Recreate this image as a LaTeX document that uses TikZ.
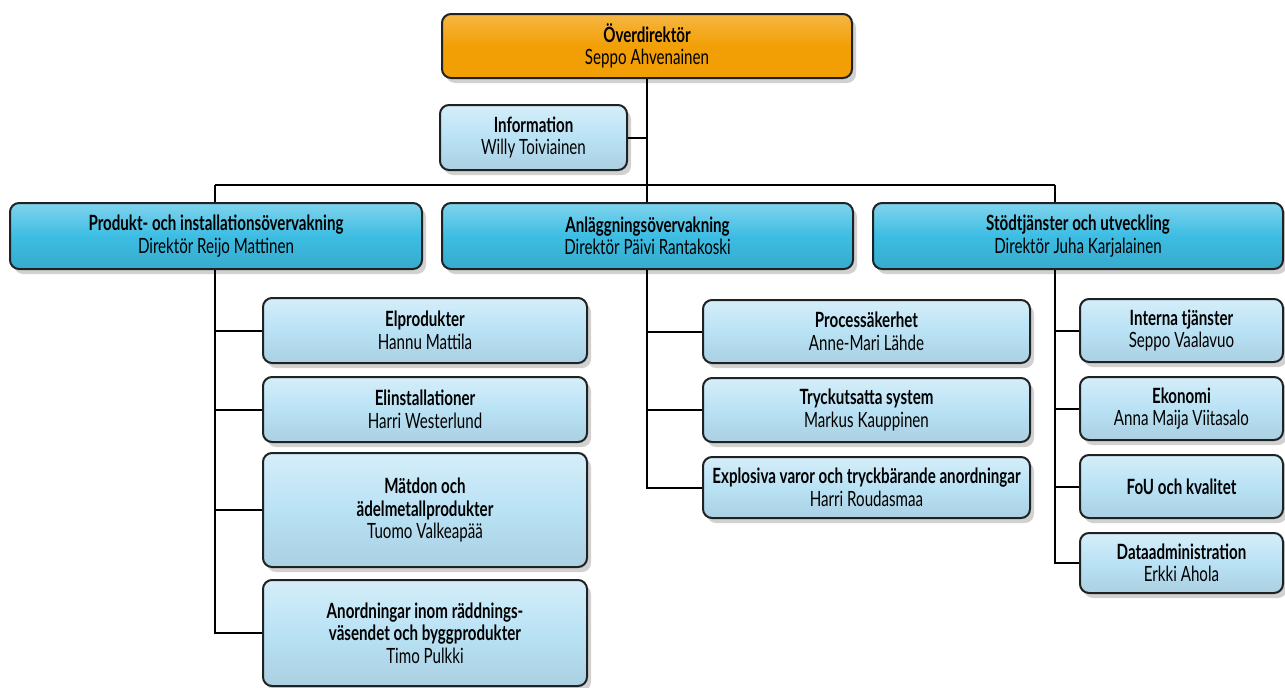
\documentclass[tikz,border=0pt]{standalone}
\usepackage{fontspec}
\setmainfont{Lato}[FakeStretch=0.72]
\usetikzlibrary{shadows,backgrounds,calc}
\definecolor{orangebox}{HTML}{F29F05}
\definecolor{bluebox}{HTML}{3DBDE3}
\definecolor{lightbox}{HTML}{B9E2F5}
\definecolor{boxline}{HTML}{1E2222}
\tikzset{
  box/.style={draw=boxline, line width=2pt, rounded corners=9pt, align=center,
    inner sep=0pt, text=black, font=\fontsize{21}{22.5}\selectfont,
    drop shadow={shadow xshift=4pt, shadow yshift=-5pt, opacity=0.18, fill=black}},
  topbox/.style={box, top color=orangebox!75!white, bottom color=orangebox, middle color=orangebox},
  midbox/.style={box, top color=bluebox!65!white, bottom color=bluebox!90!black, middle color=bluebox},
  subbox/.style={box, top color=lightbox!60!white, bottom color=lightbox!92!black, middle color=lightbox},
  conn/.style={draw=black, line width=2pt},
}
\begin{document}
\begin{tikzpicture}[x=1pt,y=-1pt]
\useasboundingbox (0,0) rectangle (1285,688);
% top
\node[topbox, minimum width=410pt, minimum height=64pt] (top) at (647,46)
  {\textbf{Överdirektör}\\Seppo Ahvenainen};
\node[subbox, minimum width=187pt, minimum height=65pt] (info) at (533.5,137.5)
  {\textbf{Information}\\Willy Toiviainen};
% level 2
\node[midbox, minimum width=412pt, minimum height=66pt] (p1) at (216,236)
  {\textbf{Produkt- och installationsövervakning}\\Direktör Reijo Mattinen};
\node[midbox, minimum width=411pt, minimum height=66pt] (p2) at (647.5,236)
  {\textbf{Anläggningsövervakning}\\Direktör Päivi Rantakoski};
\node[midbox, minimum width=410pt, minimum height=66pt] (p3) at (1078,236)
  {\textbf{Stödtjänster och utveckling}\\Direktör Juha Karjalainen};
% column 1
\node[subbox, minimum width=324pt, minimum height=65pt] (elp) at (425,330.5)
  {\textbf{Elprodukter}\\Hannu Mattila};
\node[subbox, minimum width=324pt, minimum height=65pt] (elin) at (425,409.5)
  {\textbf{Elinstallationer}\\Harri Westerlund};
\node[subbox, minimum width=324pt, minimum height=114pt] (matd) at (425,510)
  {\textbf{Mätdon och}\\\textbf{ädelmetallprodukter}\\Tuomo Valkeapää};
\node[subbox, minimum width=324pt, minimum height=106pt] (anord) at (425,633)
  {\textbf{Anordningar inom räddnings-}\\\textbf{väsendet och byggprodukter}\\Timo Pulkki};
% column 2
\node[subbox, minimum width=327pt, minimum height=63pt] (proc) at (866.5,331.5)
  {\textbf{Processäkerhet}\\Anne-Mari Lähde};
\node[subbox, minimum width=327pt, minimum height=64pt] (tryck) at (866.5,410)
  {\textbf{Tryckutsatta system}\\Markus Kauppinen};
\node[subbox, minimum width=327pt, minimum height=61pt] (expl) at (866.5,487.5)
  {\textbf{Explosiva varor och tryckbärande anordningar}\\Harri Roudasmaa};
% column 3
\node[subbox, minimum width=203pt, minimum height=63pt] (intern) at (1181.5,330.5)
  {\textbf{Interna tjänster}\\Seppo Vaalavuo};
\node[subbox, minimum width=203pt, minimum height=63pt] (ekon) at (1181.5,408.5)
  {\textbf{Ekonomi}\\Anna Maija Viitasalo};
\node[subbox, minimum width=203pt, minimum height=63pt] (fou) at (1181.5,486.5)
  {\textbf{FoU och kvalitet}};
\node[subbox, minimum width=203pt, minimum height=60pt] (data) at (1181.5,563)
  {\textbf{Dataadministration}\\Erkki Ahola};
% connectors
\coordinate (bus1) at (215,185);
\coordinate (bus3) at (1055,185);
\begin{scope}[on background layer]
  \draw[conn] (top.south) |- (expl.west);
  \draw[conn] (info.east) -- (info.east -| top.south);
  \draw[conn] (proc.west) -- (proc.west -| top.south);
  \draw[conn] (tryck.west) -- (tryck.west -| top.south);
  \draw[conn] (bus1) -- (bus3);
  \draw[conn] (bus1) |- (anord.west);
  \draw[conn] (elp.west) -- (elp.west -| bus1);
  \draw[conn] (elin.west) -- (elin.west -| bus1);
  \draw[conn] (matd.west) -- (matd.west -| bus1);
  \draw[conn] (bus3) |- (data.west);
  \draw[conn] (intern.west) -- (intern.west -| bus3);
  \draw[conn] (ekon.west) -- (ekon.west -| bus3);
  \draw[conn] (fou.west) -- (fou.west -| bus3);
\end{scope}
\end{tikzpicture}
\end{document}
